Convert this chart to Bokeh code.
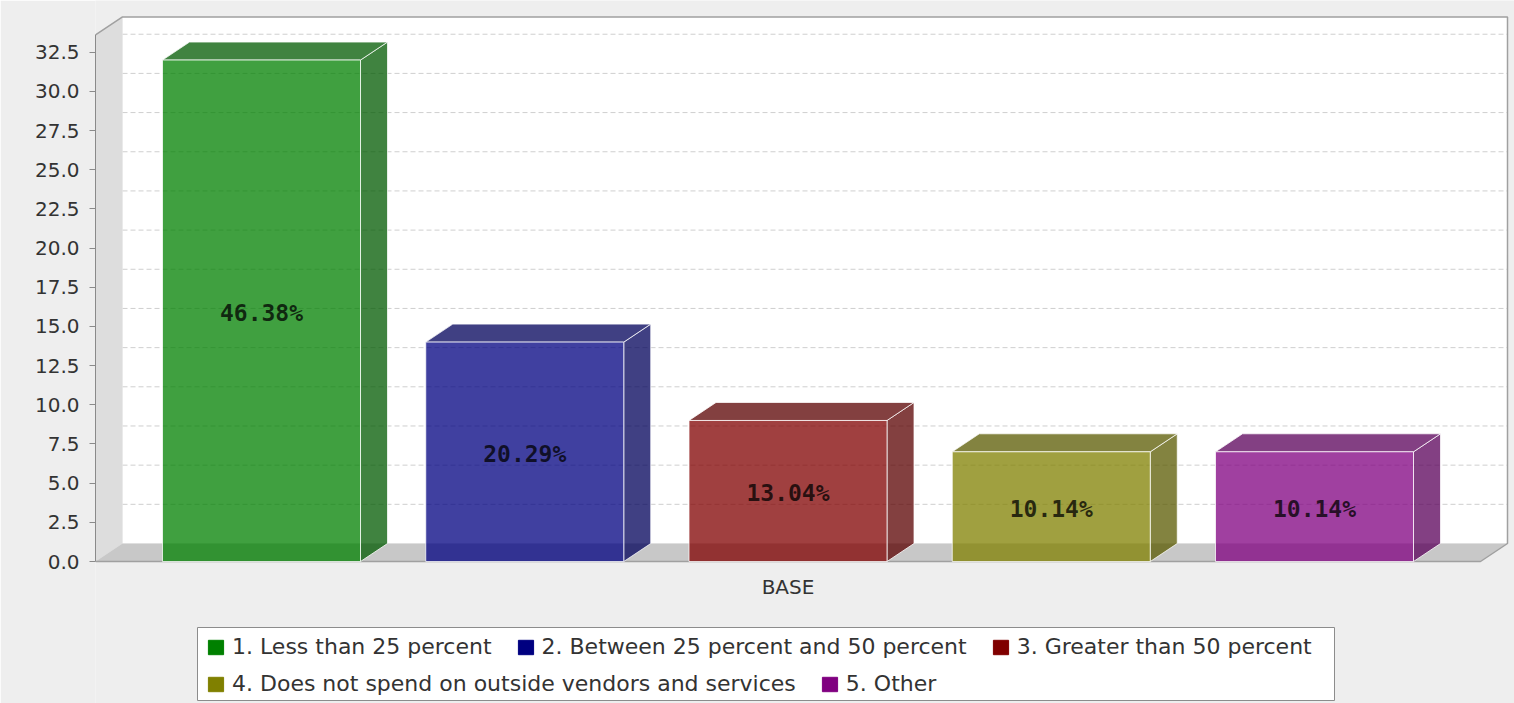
import math

from bokeh.core.properties import value
from bokeh.embed import file_html
from bokeh.models import FixedTicker, Legend, LegendItem, NumeralTickFormatter, Range1d
from bokeh.plotting import figure
from bokeh.resources import INLINE

# ---- data -------------------------------------------------------------
category = "BASE"
series_names = [
    "1. Less than 25 percent",
    "2. Between 25 percent and 50 percent",
    "3. Greater than 50 percent",
    "4. Does not spend on outside vendors and services",
    "5. Other",
]
counts = [32, 14, 9, 7, 7]
series_colors = ["#008000", "#000080", "#800000", "#808000", "#800080"]
y_ticks = [0.0, 2.5, 5.0, 7.5, 10.0, 12.5, 15.0, 17.5, 20.0, 22.5, 25.0, 27.5, 30.0, 32.5]
y_max = 33.6

# ---- layout (screen pixels) ------------------------------------------
W, H = 1514, 703
PLOT_LEFT = 95            # x of the value axis / front plane left edge
BASE_Y = 561              # screen row of value 0 on the front plane
PX_PER_UNIT = 15.67       # vertical pixels per value unit
PLANE_W = 1385            # width of the front plane
DEPTH_X, DEPTH_Y = 27, 18  # 3D offset of the back plane
CAT_MARGIN = 67
BAR_W = 198
FACE_ALPHA = 0.75

n = len(counts)
total = sum(counts)
bar_gap = (PLANE_W - 2 * CAT_MARGIN - n * BAR_W) / (n - 1)
dyv = DEPTH_Y / PX_PER_UNIT


def vy(py):
    """screen row -> value units"""
    return (BASE_Y - py) / PX_PER_UNIT


def vx(px):
    """screen column -> horizontal units"""
    return px - PLOT_LEFT


def darker(hex_color, f=0.7):
    r, g, b = (int(hex_color[i:i + 2], 16) for i in (1, 3, 5))
    return "#%02x%02x%02x" % (int(r * f), int(g * f), int(b * f))


p = figure(
    width=W, height=H,
    x_range=Range1d(0, W - PLOT_LEFT),
    y_range=Range1d(vy(H), vy(0)),
    min_border_left=PLOT_LEFT, min_border_right=0,
    min_border_top=0, min_border_bottom=0,
    x_axis_location=None,
    toolbar_location=None, output_backend="svg",
)
p.background_fill_color = "#EEEEEE"
p.border_fill_color = "#EEEEEE"
p.outline_line_color = None
p.grid.visible = False

# ---- walls ------------------------------------------------------------
p.quad(left=[DEPTH_X], right=[PLANE_W + DEPTH_X], bottom=[dyv], top=[y_max + dyv],
       fill_color="white", line_color=None)

grid_vals = [t + dyv for t in y_ticks[1:]]
p.segment(x0=[DEPTH_X] * len(grid_vals), x1=[PLANE_W + DEPTH_X] * len(grid_vals),
          y0=grid_vals, y1=grid_vals,
          line_color="#CFCFCF", line_width=1, line_dash="5 3")

p.patch(x=[0, 0, DEPTH_X, DEPTH_X], y=[0, y_max, y_max + dyv, dyv],
        fill_color="#DDDDDD", line_color=None)
p.patch(x=[0, DEPTH_X, PLANE_W + DEPTH_X, PLANE_W], y=[0, dyv, dyv, 0],
        fill_color="#C8C8C8", line_color=None)

# wall outlines
p.line(x=[0, DEPTH_X, PLANE_W + DEPTH_X, PLANE_W + DEPTH_X, PLANE_W, 0],
       y=[y_max, y_max + dyv, y_max + dyv, dyv, 0, 0],
       line_color="#A0A0A0", line_width=1.5)

# ---- bars -------------------------------------------------------------
lefts = [CAT_MARGIN + i * (BAR_W + bar_gap) for i in range(n)]
rights = [l + BAR_W for l in lefts]
dark = [darker(c) for c in series_colors]

side_xs = [[r, r + DEPTH_X, r + DEPTH_X, r] for r in rights]
side_ys = [[0, dyv, v + dyv, v] for v in counts]
top_xs = [[l, l + DEPTH_X, r + DEPTH_X, r] for l, r in zip(lefts, rights)]
top_ys = [[v, v + dyv, v + dyv, v] for v in counts]

p.patches(xs=side_xs, ys=side_ys, fill_color=dark, fill_alpha=FACE_ALPHA,
          line_color="white", line_alpha=FACE_ALPHA, line_width=1)
p.patches(xs=top_xs, ys=top_ys, fill_color=dark, fill_alpha=FACE_ALPHA,
          line_color="white", line_alpha=FACE_ALPHA, line_width=1)
p.quad(left=lefts, right=rights, bottom=[0] * n, top=counts,
       fill_color=series_colors, fill_alpha=FACE_ALPHA,
       line_color="white", line_alpha=FACE_ALPHA, line_width=1)

labels = ["%.2f%%" % (v / total * 100) for v in counts]
p.text(x=[(l + r) / 2 for l, r in zip(lefts, rights)], y=[v / 2 for v in counts],
       text=labels, text_align="center", text_baseline="middle", y_offset=2,
       text_font=value("DejaVu Sans Mono"), text_font_style="bold",
       text_font_size="23px", text_color="black", text_alpha=FACE_ALPHA)

# ---- category label ---------------------------------------------------
p.text(x=[PLANE_W / 2], y=[0], text=[category], y_offset=13,
       text_align="center", text_baseline="top",
       text_font=value("DejaVu Sans"), text_font_size="20px", text_color="#333333")

# ---- value axis -------------------------------------------------------
ax = p.yaxis[0]
ax.bounds = (0, y_max)
ax.ticker = FixedTicker(ticks=y_ticks)
ax.formatter = NumeralTickFormatter(format="0.0")
ax.axis_line_color = "#8A8A8A"
ax.major_tick_line_color = "#8A8A8A"
ax.major_tick_out = 6
ax.major_tick_in = 0
ax.minor_tick_line_color = None
ax.major_label_standoff = 10
ax.major_label_text_font = "DejaVu Sans"
ax.major_label_text_font_size = "20px"
ax.major_label_text_color = "#333333"

# ---- legend -----------------------------------------------------------
p.quad(left=[vx(197)], right=[vx(1334)], bottom=[vy(700)], top=[vy(627)],
       fill_color="white", line_color="#8C8C8C", line_width=1)

swatches = [
    p.quad(left=[math.nan], right=[math.nan], bottom=[math.nan], top=[math.nan],
           fill_color=c, line_color=c)
    for c in series_colors
]
items = [LegendItem(label=name, renderers=[r]) for name, r in zip(series_names, swatches)]


def legend_row(row_items, bottom_px):
    lg = Legend(
        items=row_items, orientation="horizontal",
        location=(206 - PLOT_LEFT, H - bottom_px),
        border_line_color=None, background_fill_alpha=0,
        padding=0, margin=0, spacing=24, label_standoff=7,
        glyph_width=19, glyph_height=18,
        label_text_font="DejaVu Sans", label_text_font_size="22px",
        label_text_color="#333333",
    )
    p.add_layout(lg, "center")


legend_row(items[:3], 659)
legend_row(items[3:], 696)

open("out.html", "w").write(file_html(p, INLINE))
